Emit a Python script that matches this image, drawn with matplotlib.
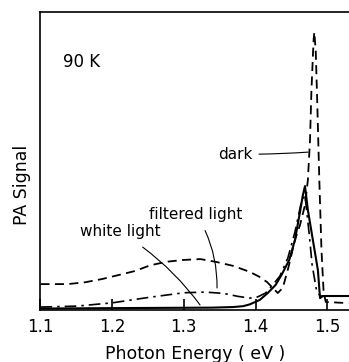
import numpy as np
import matplotlib.pyplot as plt

# photon energy (eV) and PA signal (arb. units)
e_dark = [1.100, 1.138, 1.162, 1.186, 1.210, 1.232, 1.253, 1.276, 1.299, 1.323,
          1.346, 1.369, 1.392, 1.405, 1.416, 1.423, 1.431, 1.438, 1.446, 1.455,
          1.462, 1.469, 1.473, 1.476, 1.478, 1.481, 1.482, 1.484, 1.486, 1.489,
          1.492, 1.495, 1.498, 1.530]
s_dark = [8.7, 8.7, 9.3, 10.4, 11.8, 13.1, 15.0, 16.2, 16.8, 17.1,
          16.1, 14.8, 12.8, 11.2, 9.4, 7.7, 5.7, 7.4, 14.4, 23.5,
          28.5, 35.2, 43.6, 57.0, 73.8, 90.6, 93.3, 87.0, 70.5, 43.6,
          20.1, 6.0, 2.7, 2.3]

e_white = [1.100, 1.253, 1.340, 1.369, 1.383, 1.392, 1.406, 1.417, 1.428, 1.437,
           1.447, 1.455, 1.462, 1.466, 1.469, 1.473, 1.480, 1.487, 1.490, 1.494,
           1.530]
s_white = [0.5, 0.7, 0.8, 1.0, 1.3, 1.9, 3.4, 5.7, 8.4, 12.1,
           16.8, 23.5, 32.9, 38.5, 41.6, 33.6, 23.5, 13.4, 4.0, 4.7,
           4.7]

e_filt = [1.100, 1.150, 1.200, 1.250, 1.300, 1.330, 1.355, 1.375, 1.392, 1.403,
          1.414, 1.424, 1.434, 1.445, 1.455, 1.463, 1.469, 1.475, 1.479, 1.485,
          1.490, 1.530]
s_filt = [1.0, 1.3, 2.4, 4.2, 5.8, 6.0, 5.6, 4.6, 4.0, 4.4,
          5.7, 8.4, 11.4, 17.4, 26.2, 35.2, 38.6, 25.2, 15.1, 6.7,
          4.7, 4.7]

fig = plt.figure(figsize=(3.49, 3.62), dpi=100)
ax = fig.add_axes([0.116, 0.1436, 0.884, 0.823])

ax.plot(e_dark, s_dark, color="black", lw=1.3, ls=(0, (5, 3)))
ax.plot(e_white, s_white, color="black", lw=1.5, ls="-")
ax.plot(e_filt, s_filt, color="black", lw=1.2, ls=(0, (7, 3, 1.5, 3)))

ax.set_xlim(1.1, 1.5304)
ax.set_ylim(0, 100)
ax.set_xticks([1.1, 1.2, 1.3, 1.4, 1.5])
ax.set_xticklabels(["1.1", "1.2", "1.3", "1.4", "1.5"])
ax.set_yticks([])
ax.tick_params(axis="x", direction="in", length=8, width=1.2, labelsize=12, pad=6)
ax.spines["right"].set_visible(False)
for s in ["left", "top", "bottom"]:
    ax.spines[s].set_linewidth(1.2)

ax.set_xlabel("Photon Energy ( eV )", fontsize=12.5, labelpad=6)
ax.set_ylabel("PA Signal", fontsize=12.5)
ax.yaxis.set_label_coords(-0.03, 0.42)

ax.text(1.1314, 83.2, "90 K", fontsize=12, va="center", ha="left")

ax.annotate("dark", xy=(1.4733, 53.0), xytext=(1.3952, 52.3),
            fontsize=11, ha="right", va="center",
            arrowprops=dict(arrowstyle="-", lw=0.8, shrinkA=3, shrinkB=0,
                            connectionstyle="arc3,rad=0.02"))
ax.annotate("filtered light", xy=(1.3463, 7.4), xytext=(1.317, 32.2),
            fontsize=11, ha="center", va="center",
            arrowprops=dict(arrowstyle="-", lw=0.8, shrinkA=5, shrinkB=0,
                            connectionstyle="arc3,rad=-0.15"))
ax.annotate("white light", xy=(1.3226, 1.7), xytext=(1.211, 26.2),
            fontsize=11, ha="center", va="center",
            arrowprops=dict(arrowstyle="-", lw=0.8, shrinkA=6, shrinkB=0,
                            connectionstyle="arc3,rad=-0.1"))

fig.savefig("out.png", dpi=100)
